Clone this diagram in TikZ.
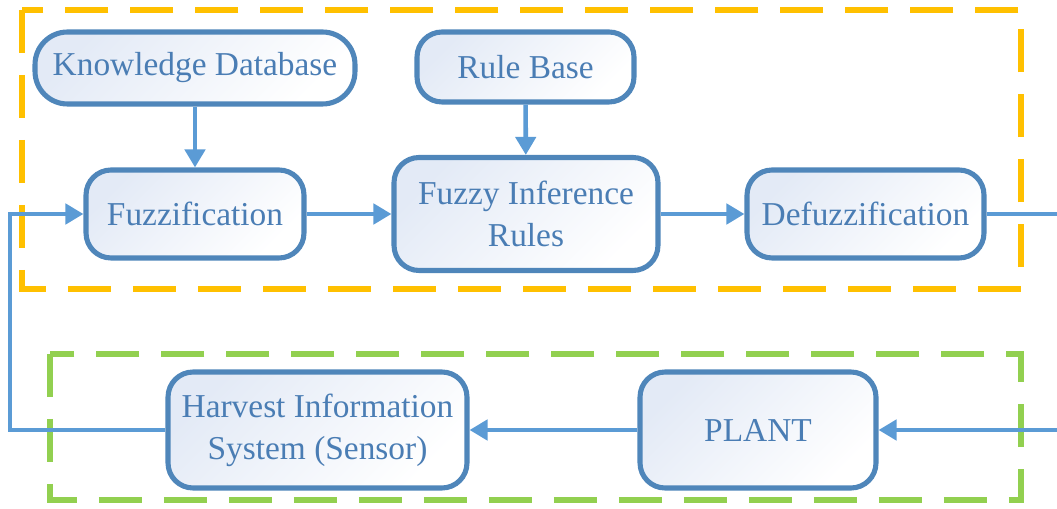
\documentclass[tikz,border=0pt]{standalone}
\usepackage{fontspec}
\setmainfont{Liberation Serif}
\usepackage{xcolor}
\usetikzlibrary{arrows.meta,calc}
\definecolor{boxline}{HTML}{4F86BA}
\definecolor{flowline}{HTML}{5B9BD5}
\definecolor{boxtext}{HTML}{4A7DB4}
\definecolor{boxfill}{HTML}{E3EAF6}
\definecolor{fuzzyorange}{HTML}{FFC000}
\definecolor{plantgreen}{HTML}{92D050}

\begin{document}
\begin{tikzpicture}[x=0.02cm, y=-0.02cm,
  box/.style={rectangle, rounded corners=0.5cm, draw=boxline, line width=2.9pt, inner sep=0pt,
    top color=boxfill, bottom color=white, shading angle=45, text=boxtext, align=center,
    font=\fontsize{19}{24}\selectfont},
  flow/.style={draw=flowline, line width=2.6pt, -{Triangle[length=0.36cm, width=0.4cm]}},
  group/.style={line width=3.2pt, dash pattern=on 0.86cm off 0.44cm}]
\useasboundingbox (0,0) rectangle (1057,509);
\draw[group, fuzzyorange] (22,10) rectangle (1021,289);
\draw[group, plantgreen] (50,354) rectangle (1021,500);
\node[box, rounded corners=0.65cm, minimum width=6.4cm, minimum height=1.44cm] (kdb) at (195,68) {Knowledge Database};
\node[box, minimum width=4.34cm, minimum height=1.4cm] (rule) at (525.5,67) {Rule Base};
\node[box, minimum width=4.36cm, minimum height=1.76cm] (fuzz) at (195,214) {Fuzzification};
\node[box, minimum width=5.28cm, minimum height=2.26cm] (fir) at (526,214) {Fuzzy Inference\\Rules};
\node[box, minimum width=4.74cm, minimum height=1.76cm] (defuzz) at (865.5,214) {Defuzzification};
\node[box, minimum width=5.98cm, minimum height=2.32cm] (harv) at (317.5,430) {Harvest Information\\System (Sensor)};
\node[box, minimum width=4.72cm, minimum height=2.32cm] (plant) at (758,430) {PLANT};
\coordinate (loopL) at (10,214);
\coordinate (outR) at (1057,214);
\coordinate (inR) at (1057,430);
\draw[flow] (kdb) -- (fuzz);
\draw[flow] (rule) -- (fir);
\draw[flow] (fuzz) -- (fir);
\draw[flow] (fir) -- (defuzz);
\draw[flow, -] (defuzz) -- (outR);
\draw[flow] (inR) -- (plant);
\draw[flow] (plant) -- (harv);
\draw[flow] (harv.west) -| (loopL) -- (fuzz.west);
\end{tikzpicture}
\end{document}
